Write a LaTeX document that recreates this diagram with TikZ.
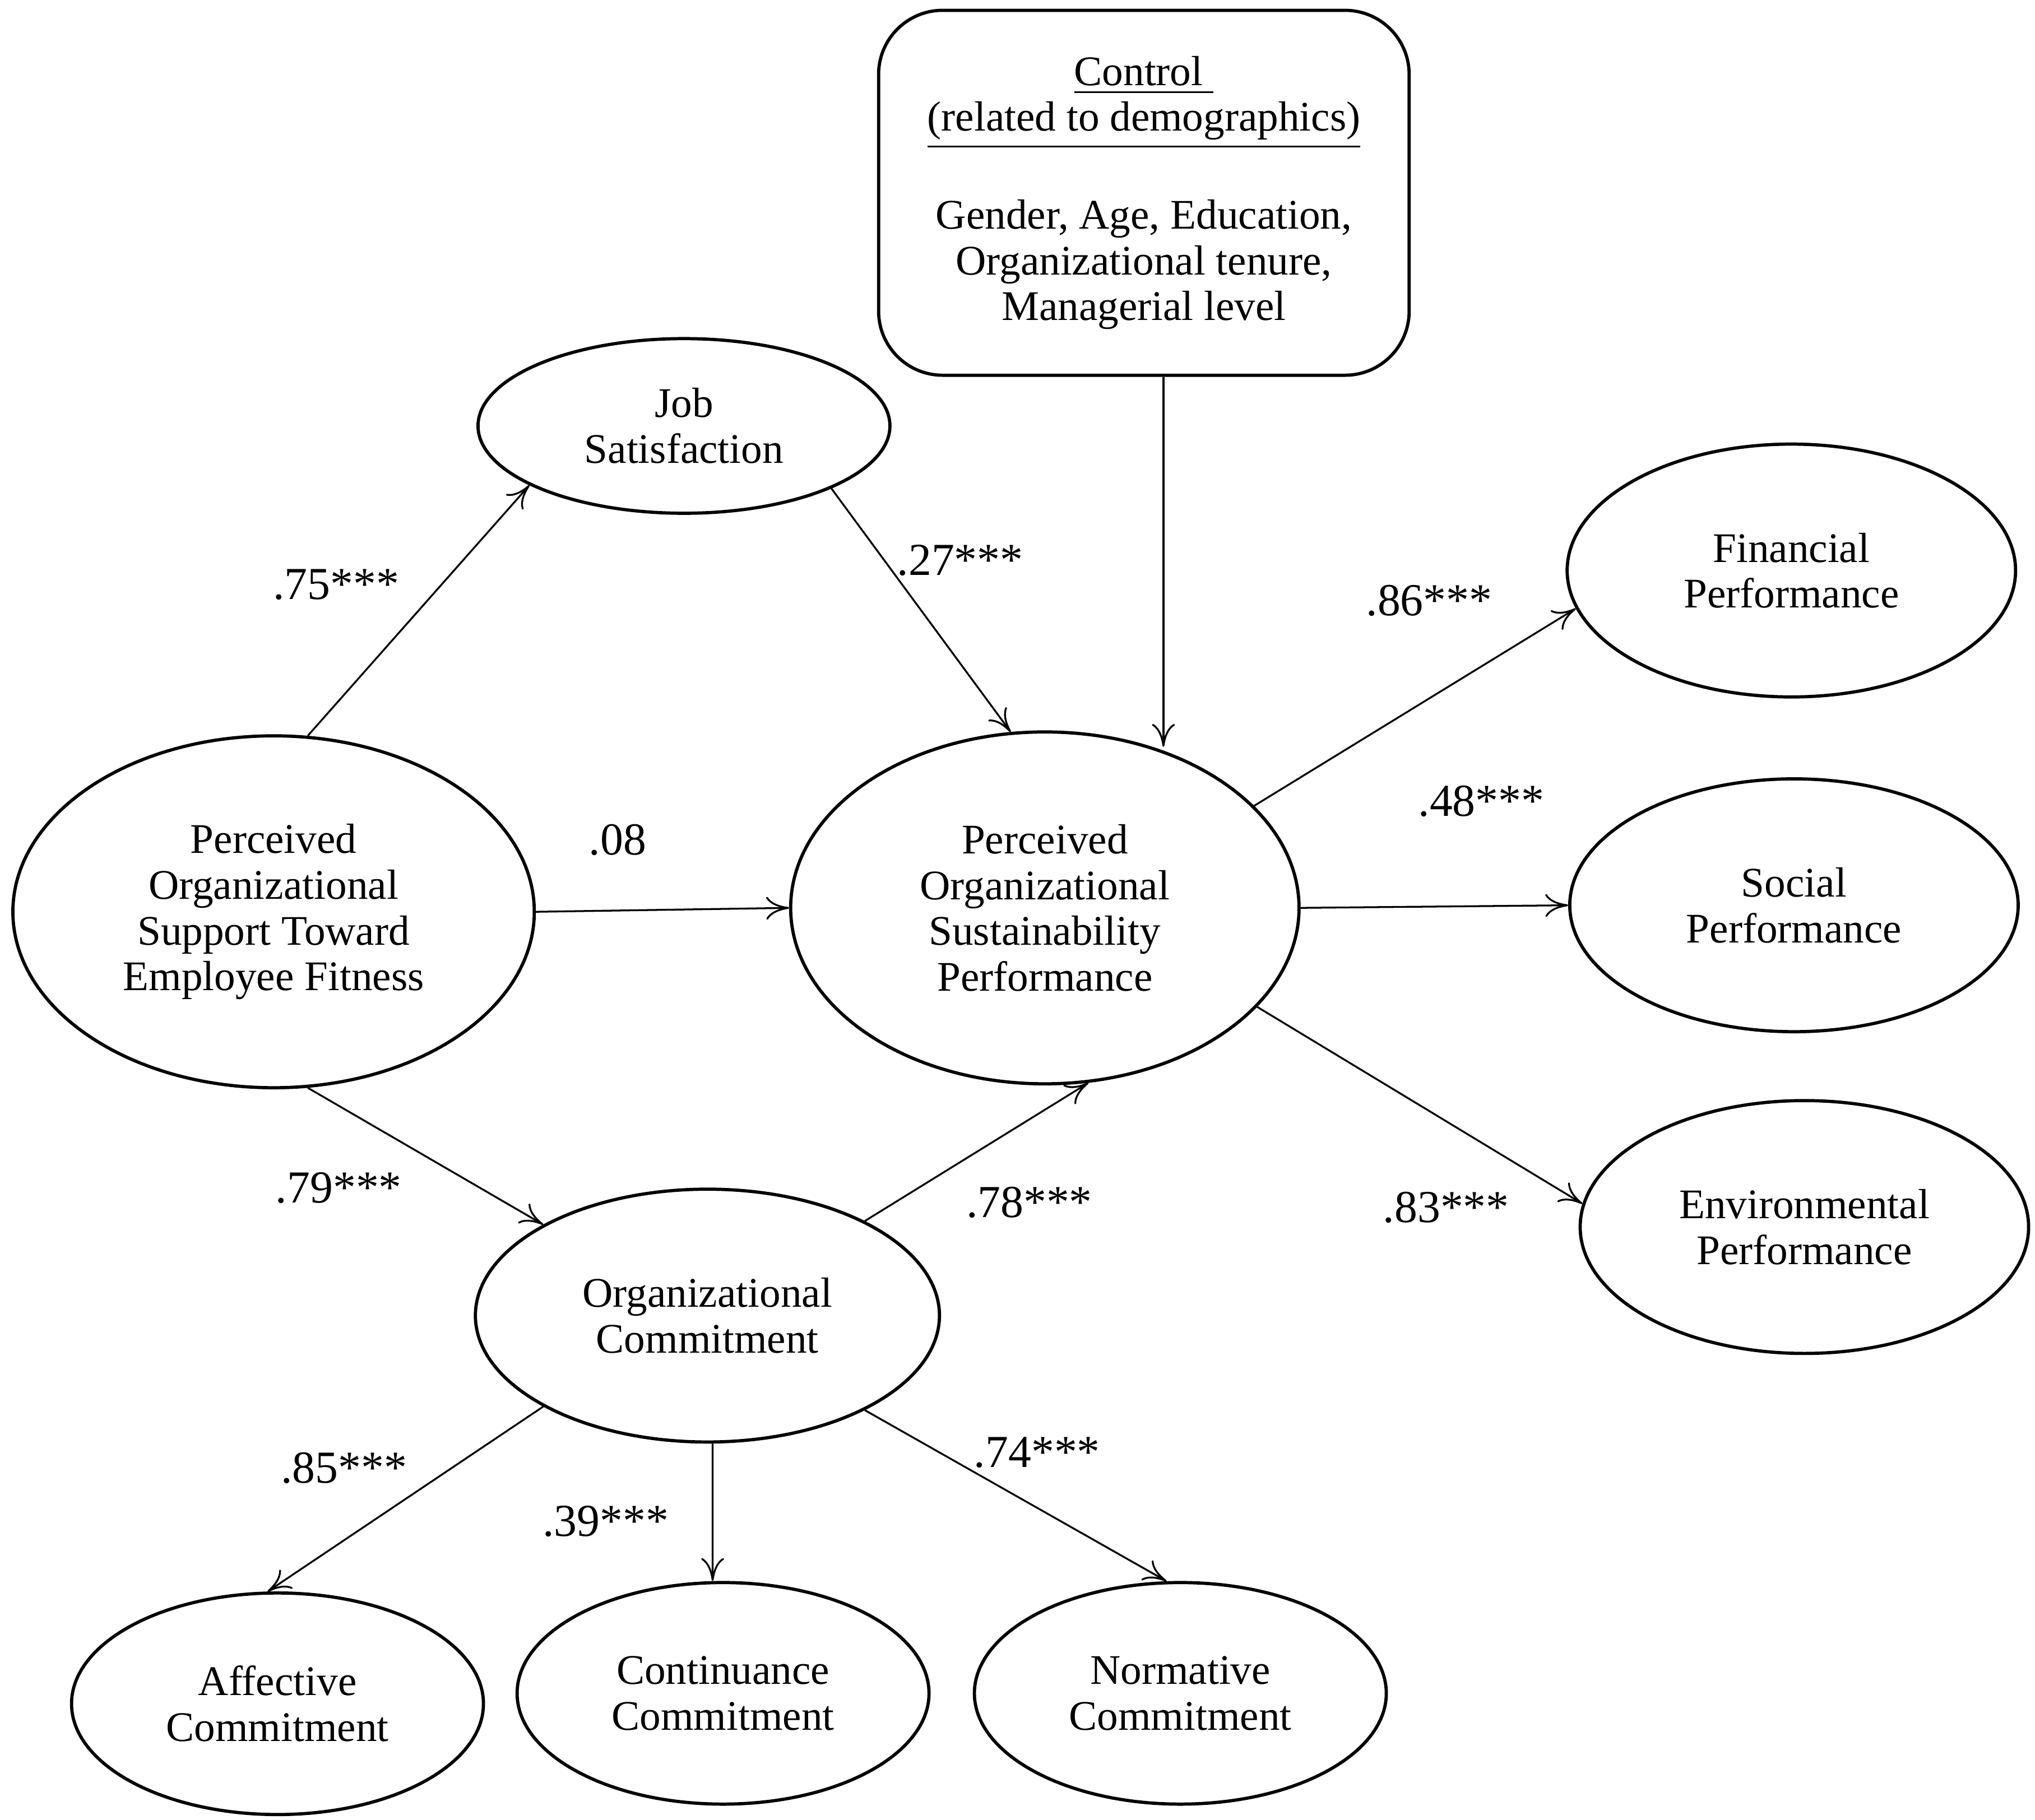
\documentclass[tikz,border=0pt]{standalone}
\usepackage{fontspec}
\setmainfont{Liberation Serif}
\usetikzlibrary{shapes.geometric,arrows.meta}
\begin{document}
\begin{tikzpicture}[x=0.01cm,y=-0.01cm,
  every node/.style={font=\fontsize{9.2}{10}\selectfont},
  ell/.style={draw,ellipse,line width=0.7pt,align=center,inner sep=0pt},
  arr/.style={-{To[length=5pt,width=5pt]},line width=0.4pt},
  lab/.style={font=\fontsize{10}{11}\selectfont}]
\useasboundingbox (0,0) rectangle (1562,1397);
\node[ell,minimum width=3.16cm,minimum height=1.34cm] (js) at (525,327) {Job\\Satisfaction};
\node[ell,minimum width=4.0cm,minimum height=2.7cm] (post) at (210,700) {Perceived\\Organizational\\Support Toward\\Employee Fitness};
\node[ell,minimum width=3.9cm,minimum height=2.7cm] (posp) at (802,697) {Perceived\\Organizational\\Sustainability\\Performance};
\node[ell,minimum width=3.44cm,minimum height=1.94cm] (fin) at (1375,438) {Financial\\Performance};
\node[ell,minimum width=3.44cm,minimum height=1.94cm] (soc) at (1377,695) {Social\\Performance};
\node[ell,minimum width=3.44cm,minimum height=1.94cm] (env) at (1385,942) {Environmental\\Performance};
\node[ell,minimum width=3.56cm,minimum height=1.94cm] (oc) at (543,1010) {Organizational\\Commitment};
\node[ell,minimum width=3.16cm,minimum height=1.7cm] (aff) at (213,1308) {Affective\\Commitment};
\node[ell,minimum width=3.16cm,minimum height=1.7cm] (cont) at (555,1300) {Continuance\\Commitment};
\node[ell,minimum width=3.16cm,minimum height=1.7cm] (norm) at (906,1300) {Normative\\Commitment};
\node[draw,rounded corners=14pt,line width=0.7pt,minimum width=4.07cm,minimum height=2.8cm,align=center] (ctrl) at (878,148)
 {\underline{Control\ }\\\underline{(related to demographics)}\\[10pt]Gender, Age, Education,\\Organizational tenure,\\Managerial level};
\draw[arr] (post.79) -- (js.201);
\draw[arr] (js.337) -- (posp.101);
\draw[arr] ([xshift=0.15cm]ctrl.south) -- ++(0,284);
\draw[arr] (post.east) -- (posp.west);
\draw[arr] (post.281) -- (oc.151);
\draw[arr] (oc.31) -- (posp.284);
\draw[arr] (posp.26.6) -- (fin.190);
\draw[arr] (posp.east) -- (soc.west);
\draw[arr] (posp.335) -- (env.174);
\draw[arr] (oc.209) -- (aff.95);
\draw[arr] ([xshift=0.04cm]oc.south) -- ([xshift=-0.08cm]cont.north);
\draw[arr] (oc.329) -- (norm.97);
\node[lab] at (258,449) {.75***};
\node[lab] at (737,430) {.27***};
\node[lab] at (474,645) {.08};
\node[lab] at (1097,461) {.86***};
\node[lab] at (1137,615) {.48***};
\node[lab] at (1110,927) {.83***};
\node[lab] at (260,912) {.79***};
\node[lab] at (790,923) {.78***};
\node[lab] at (264,1127) {.85***};
\node[lab] at (465,1168) {.39***};
\node[lab] at (796,1115) {.74***};
\end{tikzpicture}
\end{document}
